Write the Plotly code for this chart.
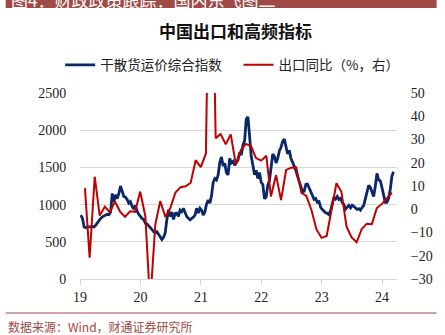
import pandas as pd
import plotly.graph_objects as go

W, H = 445, 335
L, R, T, B = 80, 45, 93, 56
PW, PH = W - L - R, H - T - B

def px(x):
    return (x - L) / PW

def py(y):
    return (H - B - y) / PH

# Dry bulk freight composite index, sampled every 10 days from early Jan 2019
freight_start = "2019-01-06"
freight_values = [
    860, 815, 700, 690, 700, 695, 700, 705, 700, 725,
    760, 790, 815, 835, 850, 860, 870, 865, 900, 1150,
    1040, 1130, 1080, 1150, 1250, 1180, 1110, 1100, 1070, 1020,
    1040, 975, 940, 990, 910, 870, 840, 815, 800, 750,
    740, 715, 705, 665, 635, 620, 635, 600, 555, 530,
    560, 620, 800, 930, 840, 900, 800, 880, 885, 840,
    925, 905, 950, 885, 840, 815, 795, 815, 830, 860,
    950, 885, 950, 925, 860, 905, 1010, 1060, 1020, 1120,
    1300, 1350, 1330, 1400, 1570, 1640, 1520, 1555, 1430, 1400,
    1620, 1560, 1580, 1530, 1560, 1600, 1700, 1667, 1800, 1860,
    2150, 2180, 1920, 1650, 1530, 1400, 1460, 1350, 1430, 1300,
    1270, 1080, 1100, 1260, 1320, 1480, 1680, 1650, 1560, 1620,
    1720, 1770, 1850, 1880, 1780, 1680, 1730, 1620, 1570, 1520,
    1460, 1380, 1300, 1240, 1170, 1180, 1270, 1275, 1220, 1160,
    1120, 1070, 1080, 1030, 1040, 960, 935, 910, 890, 883,
    865, 920, 1030, 1100, 1075, 1110, 1070, 1085, 1030, 1000,
    940, 960, 990, 955, 990, 975, 955, 935, 945, 925,
    960, 990, 1080, 1180, 1260, 1230, 1170, 1110, 1250, 1420,
    1330, 1320, 1230, 1120, 1030, 1030, 1080, 1200, 1380, 1440,
]

# Export YoY (%), monthly, Jan 2019 - Feb 2024 (month-end)
export_start = "2019-01-31"
export_yoy = [
    9.1, -20.8, 14.0, -2.7, 1.1, -1.3, 3.3, -1.0, -3.2, -0.9, -1.1, 7.6,
    -3.0, -40.6, -6.6, 3.5, -3.3, 0.5, 7.2, 9.5, 9.9, 11.4, 21.1, 18.1,
    24.0, 154.9, 30.6, 32.3, 27.9, 32.2, 19.3, 25.6, 28.1, 27.1, 22.0, 20.9,
    23.0, 5.5, 14.7, 3.9, 16.9, 17.9, 18.0, 7.1, 5.7, -0.3, -8.7, -12.3,
    -11.5, -1.3, 11.2, 7.5, -7.5, -12.0, -14.2, -8.5, -6.2, -6.4, 0.5, 2.3,
    4.7, 7.1,
]

year_ticks = ["2019-01-01", "2020-01-01", "2021-01-01", "2022-01-01", "2023-01-01", "2024-01-01"]
year_labels = ["19", "20", "21", "22", "23", "24"]
left_ticks = [0, 500, 1000, 1500, 2000, 2500]
right_ticks = [-30, -20, -10, 0, 10, 20, 30, 40, 50]

name_freight = "干散货运价综合指数"
name_export = "出口同比（%，右）"
title_text = "中国出口和高频指标"
source_text = "数据来源：Wind，财通证券研究所"
header_text = "图4：财政政策跟踪：国内东飞图二"

freight_dates = pd.date_range(freight_start, periods=len(freight_values), freq="10D")
export_dates = pd.date_range(export_start, periods=len(export_yoy), freq="ME")

BLUE = "#0a2868"
RED = "#c00000"
BROWN = "#a04a45"
GRID = "#d9d9d9"
SERIF = "Liberation Serif"
CJK = "Noto Sans CJK SC"

fig = go.Figure()
fig.add_trace(go.Scatter(x=freight_dates, y=freight_values, mode="lines",
                         name=name_freight, legend="legend",
                         line=dict(color=BLUE, width=2.8)))
fig.add_trace(go.Scatter(x=export_dates, y=export_yoy, mode="lines", yaxis="y2",
                         name=name_export, legend="legend2",
                         line=dict(color=RED, width=2)))

legend_font = dict(family=CJK, size=13.5, color="#222")
fig.update_layout(
    width=W, height=H,
    margin=dict(l=L, r=R, t=T, b=B),
    paper_bgcolor="white", plot_bgcolor="white",
    showlegend=True,
    legend=dict(orientation="h", x=px(60), y=py(65), xanchor="left", yanchor="middle",
                font=legend_font, itemwidth=30, bgcolor="rgba(0,0,0,0)"),
    legend2=dict(orientation="h", x=px(240), y=py(65), xanchor="left", yanchor="middle",
                 font=legend_font, itemwidth=30, bgcolor="rgba(0,0,0,0)"),
    xaxis=dict(type="date", range=["2019-01-01", "2024-03-31"],
               tickvals=year_ticks, ticktext=year_labels,
               ticks="outside", ticklen=5, tickcolor=GRID,
               showline=True, linecolor=GRID, showgrid=False,
               tickfont=dict(family=SERIF, size=14, color="#222")),
    yaxis=dict(range=[0, 2500], tickvals=left_ticks, showgrid=True, gridcolor=GRID,
               zeroline=False, ticks="outside", ticklen=10, tickcolor="rgba(0,0,0,0)",
               tickfont=dict(family=SERIF, size=14, color="#222")),
    yaxis2=dict(range=[-30, 50], tickvals=right_ticks, overlaying="y", side="right",
                showgrid=False, zeroline=False, ticks="outside", ticklen=10,
                tickcolor="rgba(0,0,0,0)",
                tickfont=dict(family=SERIF, size=14, color="#222")),
)

shapes = [
    dict(type="rect", xref="paper", yref="paper", x0=px(5), x1=px(440), y0=py(8), y1=py(-2),
         fillcolor=BROWN, line=dict(width=0), layer="above"),
    dict(type="line", xref="paper", yref="paper", x0=px(5), x1=px(440), y0=py(313), y1=py(313),
         line=dict(color=BROWN, width=1)),
]
fig.update_layout(shapes=shapes)

fig.add_annotation(text=header_text, xref="paper", yref="paper", x=px(8), y=py(-1),
                   xanchor="left", yanchor="middle", showarrow=False,
                   font=dict(family=CJK, size=17, color="white"))
fig.add_annotation(text="<b>" + title_text + "</b>", xref="paper", yref="paper",
                   x=px(237), y=py(30), xanchor="center", yanchor="middle", showarrow=False,
                   font=dict(family=CJK, size=17, color="#111"))
fig.add_annotation(text=source_text, xref="paper", yref="paper", x=px(5), y=py(326),
                   xanchor="left", yanchor="middle", showarrow=False,
                   font=dict(family=CJK, size=12, color=BROWN))

fig.write_html("out.html")
